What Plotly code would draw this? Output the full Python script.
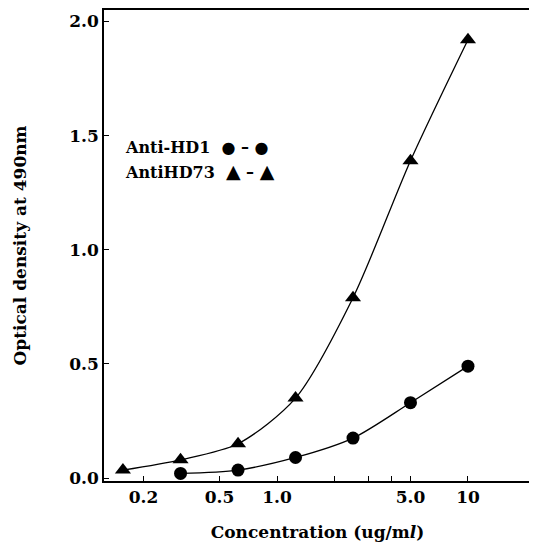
import plotly.graph_objects as go

conc = [0.156, 0.3125, 0.625, 1.25, 2.5, 5.0, 10.0]
anti_hd73 = [0.035, 0.08, 0.15, 0.35, 0.79, 1.39, 1.92]
conc_hd1 = [0.3125, 0.625, 1.25, 2.5, 5.0, 10.0]
anti_hd1 = [0.02, 0.035, 0.09, 0.175, 0.33, 0.49]

x_tickvals = [0.2, 0.5, 1, 2, 3, 4, 5, 10]
x_ticktext = ["0.2", "0.5", "1.0", "", "", "", "5.0", "10"]
y_tickvals = [0, 0.5, 1.0, 1.5, 2.0]
y_ticktext = ["0.0", "0.5", "1.0", "1.5", "2.0"]

FONT = "DejaVu Serif"

fig = go.Figure()
fig.add_trace(go.Scatter(
    x=conc, y=anti_hd73, mode="lines+markers",
    line=dict(color="black", width=1.3, shape="spline", smoothing=0.8),
    marker=dict(symbol="triangle-up", size=14, color="black"),
    name="AntiHD73", showlegend=False))
fig.add_trace(go.Scatter(
    x=conc_hd1, y=anti_hd1, mode="lines+markers",
    line=dict(color="black", width=1.3, shape="spline", smoothing=0.8),
    marker=dict(symbol="circle", size=13, color="black"),
    name="Anti-HD1", showlegend=False))

fig.add_annotation(x=0.045, y=0.708, xref="paper", yref="paper", xanchor="left", yanchor="middle",
                   text="<b>Anti-HD1  ● – ●</b>", showarrow=False,
                   font=dict(family=FONT, size=16, color="black"))
fig.add_annotation(x=0.045, y=0.658, xref="paper", yref="paper", xanchor="left", yanchor="middle",
                   text="<b>AntiHD73  <span style='font-size:19px'>▲</span> – <span style='font-size:19px'>▲</span></b>",
                   showarrow=False,
                   font=dict(family=FONT, size=16, color="black"))

# page body has an 8px default margin; compensate
fig.update_layout(
    width=529, height=535,
    margin=dict(l=96, r=6, t=2, b=62),
    paper_bgcolor="white", plot_bgcolor="white",
    font=dict(family=FONT, color="black"),
)
fig.update_xaxes(
    type="log", range=[-0.906, 1.33], automargin=False,
    tickvals=x_tickvals, ticktext=x_ticktext,
    ticks="inside", ticklen=5, tickcolor="black", tickwidth=1.2,
    showline=True, linecolor="black", linewidth=1.5, mirror=True,
    showgrid=False, zeroline=False,
    tickfont=dict(family=FONT, size=17, weight="bold"),
    title=dict(text="<b>Concentration (ug/m<i>l</i>)</b>", font=dict(family=FONT, size=17), standoff=20),
)
fig.update_yaxes(
    range=[-0.013, 2.05], automargin=False,
    tickvals=y_tickvals, ticktext=y_ticktext,
    ticks="inside", ticklen=5, tickcolor="black", tickwidth=1.2,
    showline=True, linecolor="black", linewidth=1.5, mirror=True,
    showgrid=False, zeroline=False,
    tickfont=dict(family=FONT, size=17, weight="bold"),
    title=dict(text="<b>Optical density at 490nm</b>", font=dict(family=FONT, size=17), standoff=38),
)

fig.write_html("out.html")
